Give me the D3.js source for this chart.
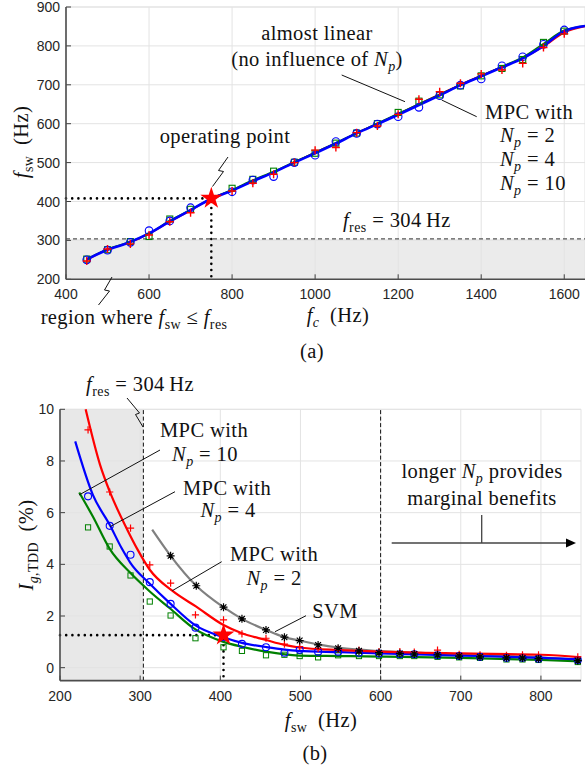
<!DOCTYPE html>
<html>
<head>
<meta charset="utf-8">
<script src="https://cdn.jsdelivr.net/npm/d3@7"></script>
<style>
  body { margin: 0; background: #fff; }
  .tick-label { font-family: "Liberation Sans", Arial, sans-serif; font-size: 14px; fill: #262626; }
  .ann { font-family: "Liberation Serif", "Times New Roman", serif; font-size: 20.5px; fill: #111; letter-spacing: 0.4px; }
</style>
</head>
<body>
<div id="chart"></div>
<script>
// ---------- (a) switching frequency vs. carrier frequency ----------
const fcMarks = [450, 500, 555, 600, 650, 700, 800, 850, 900, 950, 1000, 1050, 1100, 1150, 1200, 1250, 1300, 1350, 1400, 1450, 1500, 1550, 1600];
const fswNp2 = [247, 278, 291, 314, 348, 371, 427, 447, 470, 500, 532, 539, 577, 594, 624, 663, 682, 704, 728, 738, 755, 796, 831];
const fswNp4 = [250, 275, 295, 325, 350, 384, 425, 455, 464, 500, 519, 554, 575, 599, 618, 642, 672, 699, 715, 749, 772, 804, 841];
const fswNp10 = [252, 276, 297, 310, 355, 380, 434, 457, 478, 501, 524, 550, 576, 600, 629, 658, 674, 697, 723, 742, 765, 809, 838];

const fcFit = [450, 500, 550, 600, 650, 700, 750, 800, 850, 900, 950, 1000, 1050, 1100, 1150, 1200, 1250, 1300, 1350, 1400, 1450, 1500, 1550, 1600, 1650];
const fitA2 = [249, 277, 293, 317, 348, 377, 407, 429, 453, 475, 501, 526, 550, 576, 600, 625, 651, 676, 701, 724, 746, 768, 798, 834, 850];
const fitA4 = [251, 276, 294, 318, 349, 378, 407, 428, 452, 475, 500, 524, 549, 575, 599, 623, 648, 673, 699, 722, 745, 768, 800, 838, 851];
const fitA10 = [252, 277, 295, 318, 351, 379, 408, 430, 455, 477, 502, 526, 551, 576, 601, 626, 651, 675, 700, 723, 747, 771, 806, 840, 852];

const opFc = 750, opFsw = 408;
const fRes = 304;
const xTicksA = [400, 600, 800, 1000, 1200, 1400, 1600];
const yTicksA = [200, 300, 400, 500, 600, 700, 800, 900];

// ---------- (b) grid current TDD vs. switching frequency ----------
const fsMarks = [235, 262, 288, 312, 338, 369, 404, 427, 457, 480, 499, 522, 547, 573, 598, 624, 642, 671, 698, 724, 757, 777, 797, 846];
const tddNp2 = [9.2, 6.8, 5.4, 3.98, 3.27, 2.04, 1.85, 1.31, 1.14, 0.91, 0.82, 0.75, 0.72, 0.68, 0.62, 0.62, 0.6, 0.68, 0.52, 0.5, 0.48, 0.5, 0.5, 0.42];
const tddNp4 = [6.63, 5.49, 4.37, 3.31, 2.47, 1.55, 1.18, 0.92, 0.79, 0.58, 0.69, 0.62, 0.62, 0.58, 0.55, 0.52, 0.52, 0.48, 0.45, 0.42, 0.38, 0.38, 0.35, 0.3];
const tddNp10 = [5.43, 4.69, 3.57, 2.56, 2.02, 1.14, 0.79, 0.65, 0.48, 0.5, 0.45, 0.4, 0.48, 0.45, 0.45, 0.45, 0.45, 0.42, 0.4, 0.38, 0.32, 0.32, 0.3, 0.22];
const fsSvm = [338, 370, 404, 427, 457, 480, 499, 522, 547, 573, 598, 624, 642, 671, 698, 724, 757, 777, 797, 846];
const tddSvm = [4.33, 3.17, 2.34, 1.89, 1.46, 1.18, 1.05, 0.88, 0.75, 0.65, 0.58, 0.55, 0.53, 0.5, 0.45, 0.42, 0.38, 0.37, 0.35, 0.27];

const fitB2x = [232, 250, 262, 283, 297, 312, 340, 370, 404, 427, 457, 480, 498, 550, 600, 700, 800, 850];
const fitB2y = [10.0, 7.85, 6.82, 5.4, 4.56, 3.79, 2.98, 2.36, 1.65, 1.33, 1.07, 0.88, 0.78, 0.68, 0.62, 0.55, 0.5, 0.4];
const fitB4x = [219, 241, 262, 277, 288, 312, 337, 368, 404, 427, 457, 480, 498, 550, 600, 700, 800, 850];
const fitB4y = [8.76, 6.69, 5.53, 4.62, 4.05, 3.25, 2.5, 1.66, 1.18, 0.96, 0.8, 0.7, 0.65, 0.6, 0.55, 0.47, 0.38, 0.32];
const fitB10x = [224, 241, 262, 288, 312, 337, 368, 404, 427, 457, 498, 550, 600, 700, 800, 850];
const fitB10y = [6.78, 5.85, 4.6, 3.66, 2.95, 2.3, 1.5, 1.0, 0.81, 0.62, 0.47, 0.45, 0.43, 0.38, 0.3, 0.24];
const fitSvmx = [315, 338, 370, 404, 427, 457, 480, 499, 522, 547, 573, 600, 650, 700, 800, 850];
const fitSvmy = [5.34, 4.33, 3.17, 2.34, 1.89, 1.46, 1.18, 1.05, 0.9, 0.78, 0.7, 0.64, 0.57, 0.5, 0.4, 0.3];

const opFs = 404, opTdd = 1.26;
const xTicksB = [200, 300, 400, 500, 600, 700, 800];
const yTicksB = [0, 2, 4, 6, 8, 10];

const RED = "#ff0000", BLUE = "#0000ff", GREEN = "#008000", GRAY = "#808080";

const svg = d3.select("#chart").append("svg")
  .attr("width", 585)
  .attr("height", 768);

// writes math-like labels: segments {t, i (italic), sub}
function mathText(g, x, y, segs, anchor) {
  const t = g.append("text").attr("class", "ann")
    .attr("x", x).attr("y", y)
    .attr("text-anchor", anchor || "start");
  let shift = 0;
  segs.forEach(s => {
    const target = s.sub ? 5 : 0;
    const sp = t.append("tspan").text(s.t);
    if (target !== shift) { sp.attr("dy", target - shift); shift = target; }
    if (s.i) sp.style("font-style", "italic");
    if (s.sub) sp.style("font-size", "14px");
  });
  return t;
}

function plusPath(r) { return `M${-r},0H${r}M0,${-r}V${r}`; }
function starPath(r) {
  const d = r * 0.72;
  return `M${-r},0H${r}M0,${-r}V${r}M${-d},${-d}L${d},${d}M${d},${-d}L${-d},${d}`;
}

function drawFrame(g, x, y, xTicks, yTicks) {
  const [x0, x1] = x.range();
  const [y0, y1] = y.range();
  g.append("g").selectAll("line.gx").data(xTicks).enter().append("line")
    .attr("x1", d => x(d)).attr("x2", d => x(d))
    .attr("y1", y0).attr("y2", y1)
    .style("stroke", "#e3e3e3").style("stroke-width", 1);
  g.append("g").selectAll("line.gy").data(yTicks).enter().append("line")
    .attr("x1", x0).attr("x2", x1)
    .attr("y1", d => y(d)).attr("y2", d => y(d))
    .style("stroke", "#e3e3e3").style("stroke-width", 1);
  g.append("line").attr("x1", x0).attr("x2", x1).attr("y1", y1).attr("y2", y1)
    .style("stroke", "#e3e3e3");
  g.append("line").attr("x1", x1).attr("x2", x1).attr("y1", y0).attr("y2", y1)
    .style("stroke", "#e3e3e3");
}

function drawAxes(g, x, y, xTicks, yTicks) {
  const [x0] = x.range();
  const [y0] = y.range();
  g.append("g").selectAll("line").data(xTicks).enter().append("line")
    .attr("x1", d => x(d)).attr("x2", d => x(d))
    .attr("y1", y0).attr("y2", y0 - 5)
    .style("stroke", "#404040").style("stroke-width", 1);
  g.append("g").selectAll("line").data(yTicks).enter().append("line")
    .attr("x1", x0).attr("x2", x0 + 5)
    .attr("y1", d => y(d)).attr("y2", d => y(d))
    .style("stroke", "#404040").style("stroke-width", 1);
  g.append("line").attr("x1", x0).attr("x2", x.range()[1]).attr("y1", y0).attr("y2", y0)
    .style("stroke", "#4d4d4d").style("stroke-width", 1.6);
  g.append("line").attr("x1", x0).attr("x2", x0).attr("y1", y0).attr("y2", y.range()[1])
    .style("stroke", "#4d4d4d").style("stroke-width", 1.6);
  g.append("g").selectAll("text").data(xTicks).enter().append("text")
    .attr("class", "tick-label")
    .attr("x", d => x(d)).attr("y", y0 + 20)
    .attr("text-anchor", "middle")
    .text(d => d);
  g.append("g").selectAll("text").data(yTicks).enter().append("text")
    .attr("class", "tick-label")
    .attr("x", x0 - 6).attr("y", d => y(d) + 5)
    .attr("text-anchor", "end")
    .text(d => d);
}

function pointer(g, pts, color, width) {
  g.append("path").attr("d", d3.line()(pts))
    .style("fill", "none").style("stroke", color || "#111").style("stroke-width", width || 1);
}

// ================= (a) =================
const xA = d3.scaleLinear().domain([400, 1650]).range([66, 585]);
const yA = d3.scaleLinear().domain([200, 900]).range([279.3, 7]);
const gA = svg.append("g");

gA.append("rect")
  .attr("x", xA(400)).attr("y", yA(fRes))
  .attr("width", xA(1650) - xA(400)).attr("height", yA(200) - yA(fRes))
  .style("fill", "#ebebeb");
drawFrame(gA, xA, yA, xTicksA, yTicksA);

gA.append("line")
  .attr("x1", xA(400)).attr("x2", xA(1650)).attr("y1", yA(fRes)).attr("y2", yA(fRes))
  .style("stroke", "#555").style("stroke-width", 1.3).style("stroke-dasharray", "4,3");

// dotted operating-point guides
gA.append("path")
  .attr("d", d3.line()([[xA(400), yA(opFsw)], [xA(opFc), yA(opFsw)], [xA(opFc), yA(200)]]))
  .style("fill", "none").style("stroke", "#000").style("stroke-width", 2.6)
  .style("stroke-linecap", "round").style("stroke-dasharray", "0,6.2");

const lineA = d3.line().curve(d3.curveCatmullRom)
  .x((d, i) => xA(fcFit[i])).y(d => yA(d));
gA.append("path").attr("d", lineA(fitA2)).style("fill", "none").style("stroke", RED).style("stroke-width", 1.6);
gA.append("path").attr("d", lineA(fitA10)).style("fill", "none").style("stroke", GREEN).style("stroke-width", 1.6);
gA.append("path").attr("d", lineA(fitA4)).style("fill", "none").style("stroke", BLUE).style("stroke-width", 2.6);

gA.append("g").selectAll("rect").data(fswNp10).enter().append("rect")
  .attr("x", (d, i) => xA(fcMarks[i]) - 3).attr("y", d => yA(d) - 3)
  .attr("width", 6).attr("height", 6)
  .style("fill", "none").style("stroke", GREEN).style("stroke-width", 1.1);
gA.append("g").selectAll("circle").data(fswNp4).enter().append("circle")
  .attr("cx", (d, i) => xA(fcMarks[i])).attr("cy", d => yA(d)).attr("r", 3.8)
  .style("fill", "none").style("stroke", BLUE).style("stroke-width", 1.1);
gA.append("g").selectAll("path").data(fswNp2).enter().append("path")
  .attr("transform", (d, i) => `translate(${xA(fcMarks[i])},${yA(d)})`)
  .attr("d", plusPath(4))
  .style("stroke", RED).style("stroke-width", 1.4);

gA.append("path")
  .attr("transform", `translate(${xA(opFc)},${yA(opFsw)})`)
  .attr("d", d3.symbol().type(d3.symbolStar).size(150)())
  .style("fill", RED);

drawAxes(gA, xA, yA, xTicksA, yTicksA);

// annotations (a)
mathText(gA, 317, 40, [{t: "almost linear"}], "middle");
mathText(gA, 317, 66, [{t: "(no influence of "}, {t: "N", i: true}, {t: "p", i: true, sub: true}, {t: ")"}], "middle");
pointer(gA, [[341.7, 75], [405, 101.7]]);
mathText(gA, 485, 119, [{t: "MPC with"}]);
mathText(gA, 500, 142, [{t: "N", i: true}, {t: "p", i: true, sub: true}, {t: " = 2"}]);
mathText(gA, 500, 166, [{t: "N", i: true}, {t: "p", i: true, sub: true}, {t: " = 4"}]);
mathText(gA, 500, 190, [{t: "N", i: true}, {t: "p", i: true, sub: true}, {t: " = 10"}]);
pointer(gA, [[476.7, 116.7], [441.7, 100]]);
mathText(gA, 225, 143, [{t: "operating point"}], "middle");
pointer(gA, [[228, 157], [218.5, 170.5], [223.5, 171.5], [212.5, 186.5]]);
mathText(gA, 343, 227, [{t: "f", i: true}, {t: "res", sub: true}, {t: " = 304\u2009Hz"}]);
mathText(gA, 134, 324, [{t: "region where "}, {t: "f", i: true}, {t: "sw", sub: true}, {t: " \u2264 "}, {t: "f", i: true}, {t: "res", sub: true}], "middle");
pointer(gA, [[112, 277], [104.5, 290], [109.5, 291], [98.5, 305]]);
mathText(gA, 338, 322, [{t: "f", i: true}, {t: "c", i: true, sub: true}, {t: "\u2002(Hz)"}], "middle");
mathText(gA.append("g").attr("transform", "translate(28,142) rotate(-90)"), 0, 0,
  [{t: "f", i: true}, {t: "sw", sub: true}, {t: "\u2002(Hz)"}], "middle");
mathText(gA, 312, 358, [{t: "(a)"}], "middle");

// ================= (b) =================
const xB = d3.scaleLinear().domain([200, 850]).range([60, 581]);
const yB = d3.scaleLinear().domain([-0.5, 10]).range([680.6, 409.3]);
const gB = svg.append("g");

gB.append("rect")
  .attr("x", xB(200)).attr("y", yB(10))
  .attr("width", xB(fRes) - xB(200)).attr("height", yB(-0.5) - yB(10))
  .style("fill", "#e8e8e8");
drawFrame(gB, xB, yB, xTicksB, yTicksB);

gB.append("g").selectAll("line").data([fRes, 600]).enter().append("line")
  .attr("x1", d => xB(d)).attr("x2", d => xB(d))
  .attr("y1", yB(-0.5)).attr("y2", yB(10))
  .style("stroke", "#111").style("stroke-width", 1).style("stroke-dasharray", "4,2.5");

gB.append("path")
  .attr("d", d3.line()([[xB(200), yB(opTdd)], [xB(opFs), yB(opTdd)], [xB(opFs), yB(-0.5)]]))
  .style("fill", "none").style("stroke", "#000").style("stroke-width", 2.6)
  .style("stroke-linecap", "round").style("stroke-dasharray", "0,6.2");

const lineB = d3.line().curve(d3.curveMonotoneX);
function fitPath(xs, ys) { return lineB(xs.map((v, i) => [xB(v), yB(ys[i])])); }
gB.append("path").attr("d", fitPath(fitSvmx, fitSvmy)).style("fill", "none").style("stroke", GRAY).style("stroke-width", 2.2);
gB.append("path").attr("d", fitPath(fitB10x, fitB10y)).style("fill", "none").style("stroke", GREEN).style("stroke-width", 2.2);
gB.append("path").attr("d", fitPath(fitB4x, fitB4y)).style("fill", "none").style("stroke", BLUE).style("stroke-width", 2.2);
gB.append("path").attr("d", fitPath(fitB2x, fitB2y)).style("fill", "none").style("stroke", RED).style("stroke-width", 2.2);

gB.append("g").selectAll("rect").data(tddNp10).enter().append("rect")
  .attr("x", (d, i) => xB(fsMarks[i]) - 2.6).attr("y", d => yB(d) - 2.6)
  .attr("width", 5.2).attr("height", 5.2)
  .style("fill", "none").style("stroke", GREEN).style("stroke-width", 1);
gB.append("g").selectAll("circle").data(tddNp4).enter().append("circle")
  .attr("cx", (d, i) => xB(fsMarks[i])).attr("cy", d => yB(d)).attr("r", 3.5)
  .style("fill", "none").style("stroke", BLUE).style("stroke-width", 1.1);
gB.append("g").selectAll("path").data(tddNp2).enter().append("path")
  .attr("transform", (d, i) => `translate(${xB(fsMarks[i])},${yB(d)})`)
  .attr("d", plusPath(3.6))
  .style("stroke", RED).style("stroke-width", 1.2);
gB.append("g").selectAll("path").data(tddSvm).enter().append("path")
  .attr("transform", (d, i) => `translate(${xB(fsSvm[i])},${yB(d)})`)
  .attr("d", starPath(4))
  .style("stroke", "#000").style("stroke-width", 1.2);

gB.append("path")
  .attr("transform", `translate(${xB(opFs)},${yB(opTdd)})`)
  .attr("d", d3.symbol().type(d3.symbolStar).size(150)())
  .style("fill", RED);

drawAxes(gB, xB, yB, xTicksB, yTicksB);

// annotations (b)
mathText(gB, 140, 391, [{t: "f", i: true}, {t: "res", sub: true}, {t: " = 304\u2009Hz"}], "middle");
pointer(gB, [[127, 398], [139.5, 413], [135.5, 414.5], [143, 427]]);
mathText(gB, 204, 437, [{t: "MPC with"}], "middle");
mathText(gB, 205, 461, [{t: "N", i: true}, {t: "p", i: true, sub: true}, {t: " = 10"}], "middle");
pointer(gB, [[160, 450], [79, 495]]);
mathText(gB, 227, 495, [{t: "MPC with"}], "middle");
mathText(gB, 228, 517, [{t: "N", i: true}, {t: "p", i: true, sub: true}, {t: " = 4"}], "middle");
pointer(gB, [[175, 491.7], [110, 526.7]]);
mathText(gB, 274, 561, [{t: "MPC with"}], "middle");
mathText(gB, 274, 585, [{t: "N", i: true}, {t: "p", i: true, sub: true}, {t: " = 2"}], "middle");
pointer(gB, [[221.7, 561.7], [172.3, 590.7]]);
mathText(gB, 335, 618, [{t: "SVM"}], "middle");
pointer(gB, [[306, 615.7], [275, 631.7]]);
mathText(gB, 482, 478, [{t: "longer "}, {t: "N", i: true}, {t: "p", i: true, sub: true}, {t: " provides"}], "middle");
mathText(gB, 482, 505, [{t: "marginal benefits"}], "middle");
pointer(gB, [[481.7, 515], [481.7, 543]], "#444", 1.3);
pointer(gB, [[391.7, 543], [568, 543]], "#444", 1.3);
gB.append("path").attr("d", "M566,538.5L576,543L566,547.5Z").style("fill", "#000");

mathText(gB, 321, 727, [{t: "f", i: true}, {t: "sw", sub: true}, {t: "\u2002(Hz)"}], "middle");
mathText(gB.append("g").attr("transform", "translate(33,545) rotate(-90)"), 0, 0,
  [{t: "I", i: true}, {t: "g", i: true, sub: true}, {t: ",TDD", sub: true}, {t: "\u2002(%)"}], "middle");
mathText(gB, 315, 760, [{t: "(b)"}], "middle");
</script>
</body>
</html>
